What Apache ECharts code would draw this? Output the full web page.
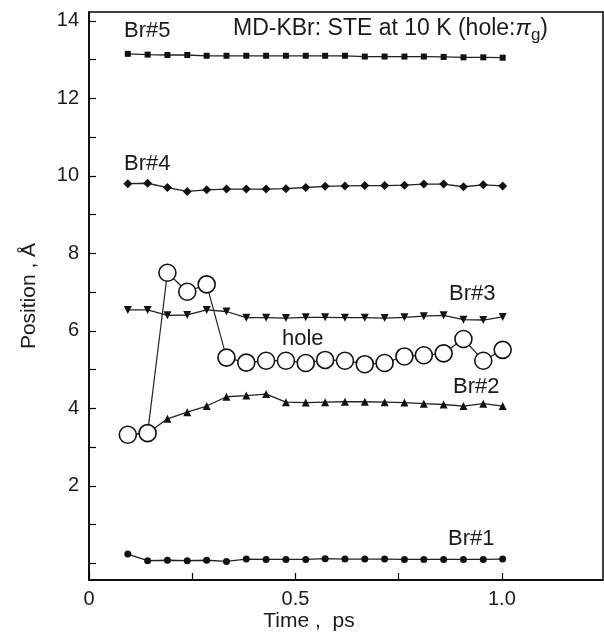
<!DOCTYPE html>
<html>
<head>
<meta charset="utf-8">
<script src="https://cdn.jsdelivr.net/npm/echarts@6/dist/echarts.min.js"></script>
<style>
  html, body { margin: 0; padding: 0; background: #fff; }
  #chart { width: 604px; height: 634px; }
</style>
</head>
<body>
<div id="chart"></div>
<script>
// time steps (ps)
var times = [0.094, 0.142, 0.190, 0.238, 0.285, 0.333, 0.381, 0.429, 0.477, 0.525,
             0.572, 0.620, 0.668, 0.716, 0.764, 0.811, 0.859, 0.907, 0.955, 1.002];

// positions (Angstrom)
var br5 = [13.15, 13.13, 13.12, 13.12, 13.10, 13.10, 13.10, 13.10, 13.10, 13.10,
           13.10, 13.10, 13.08, 13.08, 13.08, 13.08, 13.07, 13.06, 13.06, 13.05];
var br4 = [9.80, 9.81, 9.70, 9.60, 9.64, 9.66, 9.66, 9.66, 9.67, 9.70,
           9.73, 9.74, 9.75, 9.75, 9.76, 9.79, 9.79, 9.72, 9.77, 9.74];
var br3 = [6.54, 6.54, 6.40, 6.41, 6.54, 6.50, 6.34, 6.34, 6.33, 6.35,
           6.35, 6.34, 6.34, 6.33, 6.35, 6.38, 6.40, 6.29, 6.28, 6.36];
var br2 = [3.32, 3.36, 3.73, 3.90, 4.06, 4.30, 4.33, 4.37, 4.16, 4.15,
           4.16, 4.17, 4.17, 4.16, 4.15, 4.12, 4.10, 4.06, 4.12, 4.06];
var br1 = [0.24, 0.07, 0.08, 0.07, 0.08, 0.05, 0.11, 0.10, 0.10, 0.10,
           0.12, 0.11, 0.11, 0.11, 0.10, 0.10, 0.10, 0.10, 0.10, 0.11];
var hole = [3.32, 3.36, 7.50, 7.01, 7.20, 5.31, 5.18, 5.23, 5.23, 5.17,
            5.25, 5.23, 5.14, 5.17, 5.34, 5.37, 5.42, 5.79, 5.23, 5.51];

// axis ticks
var xTicks = [0, 0.25, 0.5, 0.75, 1.0];
var xLabels = [0, 0.5, 1.0];
var yTicks = [0, 1, 2, 3, 4, 5, 6, 7, 8, 9, 10, 11, 12, 13, 14];
var yLabels = [2, 4, 6, 8, 10, 12, 14];

function pairs(ys) {
  return times.map(function (t, i) { return [t, ys[i]]; });
}

var font = '"Liberation Sans", Arial, sans-serif';
var ink = '#1a1a1a';

function brSeries(name, ys, symbol, size, rotate) {
  return {
    name: name,
    type: 'line',
    data: pairs(ys),
    symbol: symbol,
    symbolSize: size,
    symbolRotate: rotate || 0,
    showAllSymbol: true,
    lineStyle: { color: '#222', width: 1.3 },
    itemStyle: { color: '#111', borderWidth: 0 },
    z: 3,
    animation: false
  };
}

// annotation text, y is the middle of the line
function txt(x, y, s) {
  return {
    type: 'text', x: x, y: y,
    style: { text: s, font: '22px ' + font, fill: ink, verticalAlign: 'middle' }
  };
}

var chart = echarts.init(document.getElementById('chart'));

chart.setOption({
  animation: false,
  grid: {
    left: 89, right: 1, top: 12, bottom: 54,
    containLabel: false, outerBoundsMode: 'none',
    show: true, borderColor: '#000', borderWidth: 1.5
  },
  xAxis: {
    type: 'value', min: 0, max: 1.245,
    name: 'Time ,  ps', nameLocation: 'middle', nameGap: 31, nameMoveOverlap: false,
    nameTextStyle: { fontFamily: font, fontSize: 21, color: ink, padding: [0, 74, 0, 0] },
    axisLine: { show: true, onZero: false, lineStyle: { color: '#000', width: 1.5 } },
    axisTick: { show: true, inside: true, length: 7, customValues: xTicks,
                lineStyle: { color: '#000', width: 1.2 } },
    axisLabel: { customValues: xLabels, margin: 9, fontFamily: font, fontSize: 20, color: ink,
                 formatter: function (v) { return v === 0 ? '0' : v.toFixed(1); } },
    splitLine: { show: false }
  },
  yAxis: {
    type: 'value', min: -0.43, max: 14.23,
    name: 'Position , Å', nameLocation: 'middle', nameGap: 49, nameRotate: 90,
    nameMoveOverlap: false,
    nameTextStyle: { fontFamily: font, fontSize: 21, color: ink },
    axisLine: { show: true, onZero: false, lineStyle: { color: '#000', width: 1.5 } },
    axisTick: { show: true, inside: true, length: 7, customValues: yTicks,
                lineStyle: { color: '#000', width: 1.2 } },
    axisLabel: { customValues: yLabels, margin: 10, fontFamily: font, fontSize: 20, color: ink },
    splitLine: { show: false }
  },
  series: [
    brSeries('Br#5', br5, 'rect', 6),
    brSeries('Br#4', br4, 'diamond', 9),
    brSeries('Br#3', br3, 'triangle', 8, 180),
    brSeries('Br#2', br2, 'triangle', 8),
    brSeries('Br#1', br1, 'circle', 7),
    {
      name: 'hole',
      type: 'line',
      data: pairs(hole),
      symbol: 'circle',
      symbolSize: 17,
      showAllSymbol: true,
      lineStyle: { color: '#222', width: 1.2 },
      itemStyle: { color: '#fff', borderColor: '#111', borderWidth: 1.6 },
      z: 5,
      animation: false
    }
  ],
  graphic: [
    txt(124, 31, 'Br#5'),
    {
      type: 'text', x: 233, y: 29,
      style: {
        text: 'MD-KBr: STE at 10 K (hole:{pi|π}{sub|g})',
        font: '23px ' + font, fill: ink, verticalAlign: 'middle',
        rich: {
          pi: { font: 'italic 23px ' + font, fill: ink },
          sub: { font: '17px ' + font, fill: ink, padding: [12, 0, 0, 0] }
        }
      }
    },
    txt(124, 164, 'Br#4'),
    txt(449, 294, 'Br#3'),
    txt(282, 339, 'hole'),
    txt(453, 387, 'Br#2'),
    txt(448, 539, 'Br#1')
  ]
});
</script>
</body>
</html>
